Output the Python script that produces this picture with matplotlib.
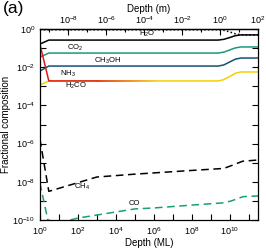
import numpy as np
import matplotlib
matplotlib.use("Agg")
import matplotlib.pyplot as plt
from matplotlib.collections import LineCollection
from matplotlib.colors import to_rgba
from matplotlib.ticker import FixedLocator, NullFormatter

plt.rcParams["font.family"] = ["Liberation Sans", "DejaVu Sans"]
plt.rcParams["mathtext.fontset"] = "custom"
plt.rcParams["mathtext.rm"] = "Liberation Sans"
plt.rcParams["mathtext.it"] = "Liberation Sans:italic"

# 1 monolayer ~ 3.16e-10 m
ML_TO_M = 10 ** -9.5

# depth grid (log10 ML) for the ice species, and log10 fractional composition
depth_solid = [0, 0.47, 9.4, 9.7, 10.0, 10.3, 10.6, 11.5]
total = [-0.04, -0.04, -0.04, -0.07, -0.15, -0.25, -0.30, -0.31]
h2o = [-0.79, -0.58, -0.58, -0.54, -0.45, -0.35, -0.31, -0.31]
co2 = [-1.47, -1.26, -1.26, -1.21, -1.10, -0.99, -0.94, -0.94]
ch3oh = [-2.20, -1.94, -1.94, -1.88, -1.73, -1.58, -1.52, -1.52]
h2co = [-2.93, -2.72, -2.72, -2.65, -2.49, -2.32, -2.25, -2.25]

# NH3: last segment fades out on top of H2CO
depth_nh3 = [0, 0.47, 3.0, 6.3]
nh3 = [-0.79, -2.72, -2.72, -2.72]

depth_ch4 = [0, 0.47, 3, 5, 8.4, 9.7, 10.1, 10.7, 11.5]
ch4 = [-5.76, -8.5, -7.75, -7.6, -7.38, -7.3, -7.15, -6.92, -6.86]

depth_co = [0, 0.42, 1.0, 2.0, 5.0, 6.0, 8.0, 9.7, 10.1, 10.7, 11.5]
co = [-8.06, -10.0, -10.15, -9.9, -9.42, -9.37, -9.22, -9.1, -9.0, -8.78, -8.74]


def lin(a):
    return 10 ** np.asarray(a, dtype=float)


fig = plt.figure(figsize=(2.66, 2.5), dpi=100)
ax = fig.add_axes([0.150, 0.12, 0.820, 0.764])

lw = 1.1
ax.plot(lin(depth_solid), lin(total), color="black", lw=lw, ls=(0, (1, 1.5)))
ax.plot(lin(depth_solid), lin(h2o), color="black", lw=lw)
ax.plot(lin(depth_solid), lin(co2), color="#1a9a7a", lw=lw)
ax.plot(lin(depth_solid), lin(ch3oh), color="#17506e", lw=lw)
ax.plot(lin(depth_solid), lin(h2co), color="#f5d000", lw=lw)

red = "#e01818"
ax.plot(lin(depth_nh3[:-1]), lin(nh3[:-1]), color=red, lw=lw)
# fading tail
fx = np.linspace(depth_nh3[-2], depth_nh3[-1], 40)
fy = np.interp(fx, depth_nh3[-2:], nh3[-2:])
pts = np.column_stack([lin(fx), lin(fy)]).reshape(-1, 1, 2)
segs = np.concatenate([pts[:-1], pts[1:]], axis=1)
alphas = np.linspace(1, 0, len(segs))
cols = [to_rgba(red, a) for a in alphas]
ax.add_collection(LineCollection(segs, colors=cols, linewidths=lw))

ax.plot(lin(depth_ch4), lin(ch4), color="black", lw=lw, ls=(0, (5, 3)))
ax.plot(lin(depth_co), lin(co), color="#1aa070", lw=lw, ls=(0, (5, 3)))

ax.set_xscale("log")
ax.set_yscale("log")
ax.set_xlim(1, 10 ** 11.5)
ax.set_ylim(1e-10, 1)

fs = 6.5
ax.xaxis.set_major_locator(FixedLocator([10.0 ** k for k in range(0, 11, 2)]))
ax.xaxis.set_minor_locator(FixedLocator([10.0 ** k for k in range(1, 12, 2)]))
ax.xaxis.set_minor_formatter(NullFormatter())
ax.yaxis.set_major_locator(FixedLocator([10.0 ** k for k in range(-10, 1, 2)]))
ax.yaxis.set_minor_locator(FixedLocator([10.0 ** k for k in range(-9, 0, 2)]))
ax.yaxis.set_minor_formatter(NullFormatter())
ax.tick_params(which="both", direction="in", right=True, labelsize=fs, width=0.8)
ax.tick_params(which="major", length=4)
ax.tick_params(which="minor", length=4)

sec = ax.secondary_xaxis("top", functions=(lambda x: x * ML_TO_M, lambda x: x / ML_TO_M))
sec.xaxis.set_major_locator(FixedLocator([10.0 ** k for k in range(-8, 3, 2)]))
sec.xaxis.set_minor_locator(FixedLocator([10.0 ** k for k in range(-9, 2)]))
sec.xaxis.set_minor_formatter(NullFormatter())
sec.tick_params(which="both", direction="in", labelsize=fs, width=0.8, pad=2)
sec.tick_params(which="major", length=4)
sec.tick_params(which="minor", length=2)
sec.set_xlabel("Depth (m)", fontsize=fs + 0.5, labelpad=2)

for s in list(ax.spines.values()) + list(sec.spines.values()):
    s.set_linewidth(0.9)

ax.set_xlabel("Depth (ML)", fontsize=fs + 0.5, labelpad=1)
ax.set_ylabel("Fractional composition", fontsize=fs + 0.5, labelpad=1)

tfs = 5.5
ax.text(10 ** 5.65, 10 ** -0.26, "H$_2$O", fontsize=tfs, ha="center", va="center")
ax.text(10 ** 1.88, 10 ** -1.0, "CO$_2$", fontsize=tfs, ha="center", va="center")
ax.text(10 ** 3.56, 10 ** -1.68, "CH$_3$OH", fontsize=tfs, ha="center", va="center")
ax.text(10 ** 1.47, 10 ** -2.36, "NH$_3$", fontsize=tfs, ha="center", va="center")
ax.text(10 ** 1.88, 10 ** -2.98, "H$_2$CO", fontsize=tfs, ha="center", va="center")
ax.text(10 ** 2.2, 10 ** -8.27, "CH$_4$", fontsize=tfs, ha="center", va="center")
ax.text(10 ** 5.0, 10 ** -9.15, "CO", fontsize=tfs, ha="center", va="center")

fig.text(0.012, 0.995, "(a)", fontsize=12.5, ha="left", va="top")

fig.savefig("out.png", dpi=100)
